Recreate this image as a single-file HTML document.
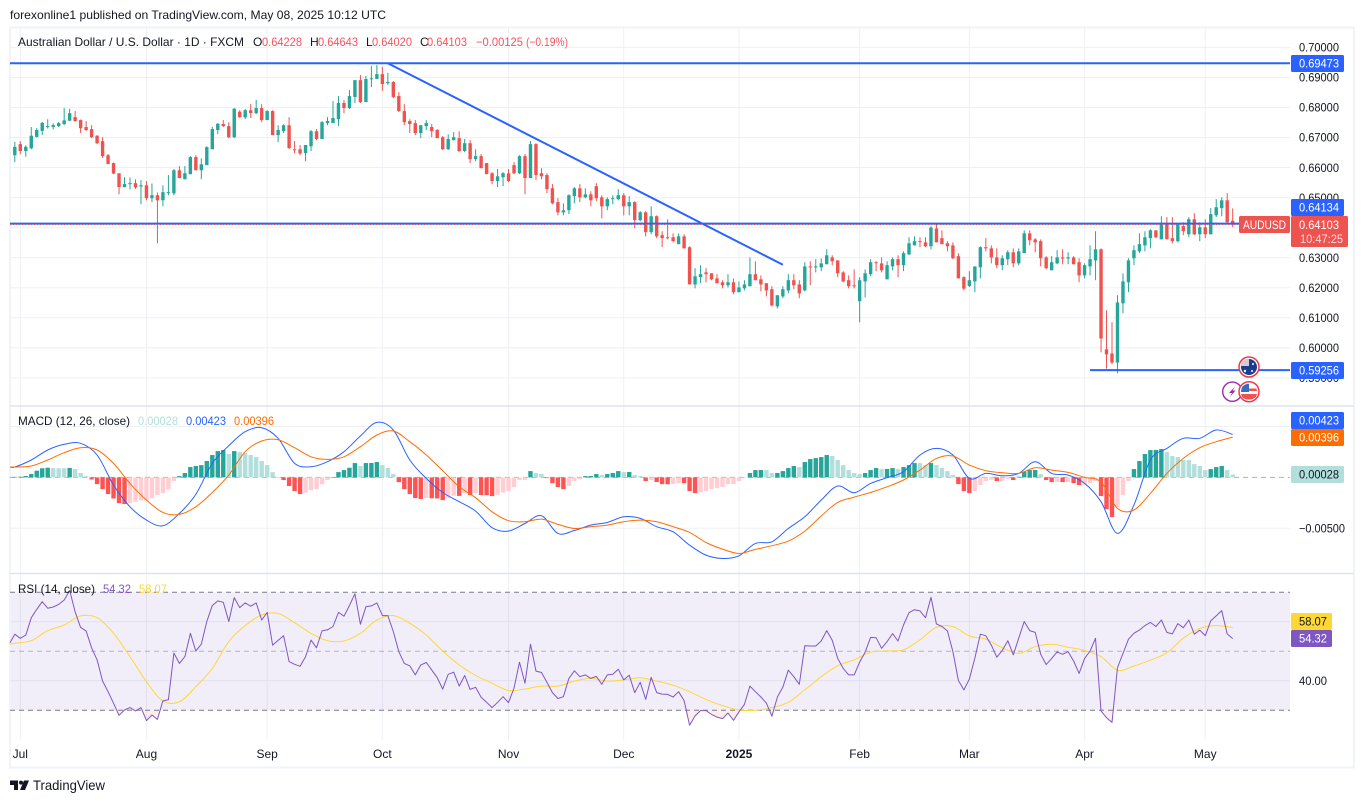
<!DOCTYPE html>
<html lang="en">
<head>
<meta charset="utf-8">
<title>AUD/USD daily chart</title>
<style>
html,body{margin:0;padding:0;background:#fff;width:1364px;height:803px;overflow:hidden}
svg{display:block}
text{font-family:"Liberation Sans",sans-serif;font-size:12px;fill:#131722}
.ax{font-size:12px;text-anchor:start}
.tm{font-size:12px;text-anchor:middle}
.red{fill:#f7525f}
</style>
</head>
<body>
<svg id="chart" xmlns="http://www.w3.org/2000/svg" width="1364" height="803" viewBox="0 0 1364 803">
  <rect width="1364" height="803" fill="#ffffff"/>
  <text x="10" y="19" textLength="376" lengthAdjust="spacingAndGlyphs">forexonline1 published on TradingView.com, May 08, 2025 10:12 UTC</text>
  <rect x="10" y="27.5" width="1344" height="740" fill="none" stroke="#f0f3fa" stroke-width="2"/>

  <g id="grid"></g>
  <rect x="11" y="592.3" width="1279" height="118" fill="#7e57c2" fill-opacity=".1"/>
  <g id="rsiLevels"></g>
  <line x1="10" x2="1354" y1="406" y2="406" stroke="#e0e3eb" stroke-width="1.4"/>
  <line x1="10" x2="1354" y1="573.5" y2="573.5" stroke="#e0e3eb" stroke-width="1.4"/>

  <g id="candles"></g>
  <g id="drawings"></g>
  <g id="hist"></g>
  <g id="macdLines"></g>
  <g id="rsiLines"></g>
  <g id="axes"></g>

  <g>
    <text x="18" y="46" textLength="226" lengthAdjust="spacingAndGlyphs">Australian Dollar / U.S. Dollar · 1D · FXCM</text>
    <text x="253" y="46">O</text>
    <text x="262" y="46" class="red" textLength="40" lengthAdjust="spacingAndGlyphs">0.64228</text>
    <text x="310" y="46">H</text>
    <text x="318" y="46" class="red" textLength="40" lengthAdjust="spacingAndGlyphs">0.64643</text>
    <text x="366" y="46">L</text>
    <text x="372" y="46" class="red" textLength="40" lengthAdjust="spacingAndGlyphs">0.64020</text>
    <text x="420" y="46">C</text>
    <text x="427" y="46" class="red" textLength="40" lengthAdjust="spacingAndGlyphs">0.64103</text>
    <text x="476" y="46" class="red" textLength="47" lengthAdjust="spacingAndGlyphs">−0.00125</text>
    <text x="526" y="46" class="red" textLength="42" lengthAdjust="spacingAndGlyphs">(−0.19%)</text>
  </g>
  <g>
    <text x="18" y="425" textLength="112" lengthAdjust="spacingAndGlyphs">MACD (12, 26, close)</text>
    <text x="138" y="425" style="fill:#b2dfdb" textLength="40" lengthAdjust="spacingAndGlyphs">0.00028</text>
    <text x="186" y="425" style="fill:#2962ff" textLength="40" lengthAdjust="spacingAndGlyphs">0.00423</text>
    <text x="234" y="425" style="fill:#ff6d00" textLength="40" lengthAdjust="spacingAndGlyphs">0.00396</text>
  </g>
  <g>
    <text x="18" y="593" textLength="77" lengthAdjust="spacingAndGlyphs">RSI (14, close)</text>
    <text x="103" y="593" style="fill:#7e57c2" textLength="28" lengthAdjust="spacingAndGlyphs">54.32</text>
    <text x="139" y="593" style="fill:#fdd835" textLength="28" lengthAdjust="spacingAndGlyphs">58.07</text>
  </g>

  <g>
    <circle cx="1232.3" cy="391.7" r="9.6" fill="#fff" stroke="#9c27b0" stroke-width="1.4"/>
    <path d="M1235 386.5 L1229 393 L1232 393 L1229.8 397 L1235.5 390.5 L1232.6 390.5 Z" fill="#9c27b0"/>
  </g>
  <g>
    <circle cx="1249" cy="367" r="10" fill="#fff" stroke="#f23645" stroke-width="1.5"/>
    <circle cx="1249" cy="367" r="8" fill="#1c3d8f"/>
    <path d="M1242 361.5 Q1245 359 1249 359 V366 H1241 Q1241 363 1242 361.5 Z" fill="#d7c8d6"/>
    <circle cx="1253" cy="364" r="1" fill="#fff"/><circle cx="1252" cy="371" r="1" fill="#fff"/><circle cx="1245" cy="371" r="1.2" fill="#fff"/>
  </g>
  <g>
    <circle cx="1249" cy="391.7" r="10" fill="#fff" stroke="#f23645" stroke-width="1.5"/>
    <path d="M1249 388.5 H1256.5 L1257 391 H1249 Z M1241 394 H1257 L1256 397 Q1253 399.6 1249 399.6 Q1244.5 399.6 1242 397 Z" fill="#ef5350"/>
    <path d="M1242.5 386.5 Q1245 383.7 1249 383.7 V392 H1241 Q1241 389 1242.5 386.5 Z" fill="#2f6fc4"/>
  </g>

  <g>
    <path d="M10 780.5 H18 V790 H14 V785 H10 Z M24 780.5 H29 L25 790 H20 Z" fill="#131722"/>
    <circle cx="21" cy="782.6" r="2" fill="#131722"/>
    <text x="33" y="790" style="font-size:14px" textLength="72" lengthAdjust="spacingAndGlyphs">TradingView</text>
  </g>
</svg>

<script>
// OHLC quotes in pips (price x 10^4), one per daily bar
const opens = [
6641,6678,6655,6664,6702,6722,6735,6735,6738,6745,
6756,6768,6758,6735,6728,6706,6688,6641,6615,6581,
6535,6546,6548,6537,6541,6498,6508,6491,6515,6514,
6591,6561,6578,6635,6591,6608,6661,6725,6745,6738,
6701,6786,6767,6791,6781,6798,6758,6788,6708,6721,
6741,6661,6661,6648,6671,6721,6695,6748,6748,6761,
6815,6798,6835,6891,6818,6895,6895,6911,6881,6885,
6838,6788,6755,6748,6715,6738,6735,6725,6701,6661,
6691,6698,6655,6681,6628,6638,6615,6581,6555,6568,
6581,6608,6581,6638,6565,6678,6581,6575,6531,6485,
6451,6458,6505,6531,6501,6511,6538,6501,6471,6495,
6495,6508,6471,6485,6425,6451,6385,6438,6375,6368,
6368,6345,6371,6335,6211,6235,6251,6248,6231,6218,
6208,6218,6185,6198,6205,6245,6228,6215,6195,6138,
6171,6191,6225,6211,6191,6271,6269,6268,6278,6301,
6291,6251,6225,6208,6155,6221,6245,6285,6281,6228,
6271,6295,6275,6311,6341,6355,6351,6338,6397,6365,
6348,6341,6305,6235,6206,6221,6268,6335,6331,6301,
6275,6295,6318,6281,6315,6381,6361,6355,6301,6258,
6281,6301,6297,6301,6285,6241,6271,6291,6328,5995,
5981,5951,6148,6218,6298,6321,6341,6365,6391,6361,
6411,6365,6355,6405,6378,6428,6378,6401,6378,6441,
6465,6491,6423];
const highs = [
6686,6688,6674,6735,6732,6752,6761,6747,6752,6798,
6796,6788,6760,6755,6741,6708,6701,6645,6617,6581,
6568,6567,6561,6558,6555,6547,6517,6541,6575,6595,
6605,6605,6638,6641,6631,6671,6735,6748,6758,6751,
6798,6791,6795,6811,6825,6811,6791,6791,6741,6744,
6768,6688,6675,6675,6725,6728,6755,6768,6821,6838,
6825,6858,6891,6908,6905,6938,6941,6935,6915,6888,
6851,6811,6761,6758,6741,6758,6745,6728,6705,6711,
6718,6721,6695,6691,6661,6645,6615,6585,6595,6585,
6595,6618,6641,6645,6688,6681,6598,6581,6545,6498,
6481,6511,6535,6545,6531,6521,6548,6508,6501,6508,
6528,6515,6505,6488,6455,6455,6471,6441,6388,6428,
6381,6381,6378,6338,6265,6275,6265,6248,6245,6225,
6245,6231,6221,6225,6301,6288,6241,6215,6205,6175,
6205,6245,6245,6225,6285,6288,6295,6298,6328,6308,
6291,6255,6241,6261,6235,6261,6295,6288,6301,6288,
6301,6308,6321,6368,6371,6368,6368,6405,6411,6391,
6355,6351,6315,6238,6255,6271,6338,6365,6341,6331,
6308,6325,6331,6331,6391,6391,6365,6361,6305,6305,
6325,6328,6318,6305,6298,6281,6341,6388,6331,6125,
6085,6175,6248,6298,6341,6381,6388,6395,6391,6438,
6435,6435,6415,6418,6435,6448,6418,6428,6465,6495,
6501,6515,6464];
const lows = [
6618,6645,6636,6661,6700,6708,6730,6727,6735,6741,
6755,6752,6715,6721,6698,6678,6632,6611,6578,6511,
6534,6527,6529,6478,6491,6485,6348,6471,6508,6508,
6565,6561,6578,6591,6561,6608,6661,6711,6735,6698,
6698,6765,6761,6765,6778,6751,6758,6708,6685,6715,
6661,6648,6641,6621,6655,6691,6695,6741,6748,6738,
6781,6795,6815,6815,6818,6868,6895,6855,6875,6831,
6785,6741,6715,6708,6698,6725,6701,6698,6658,6658,
6691,6651,6651,6615,6621,6598,6578,6545,6535,6538,
6551,6578,6578,6511,6565,6558,6561,6515,6478,6441,
6441,6445,6481,6485,6498,6471,6488,6431,6458,6478,
6491,6441,6441,6398,6421,6371,6378,6365,6335,6361,
6351,6345,6331,6211,6198,6215,6218,6225,6215,6198,
6201,6178,6185,6191,6205,6225,6188,6171,6138,6131,
6165,6181,6195,6165,6188,6208,6251,6255,6278,6275,
6235,6218,6198,6198,6085,6168,6238,6255,6251,6228,
6258,6235,6255,6308,6341,6335,6335,6328,6351,6345,
6321,6295,6231,6191,6202,6185,6231,6321,6281,6265,
6258,6275,6268,6275,6315,6341,6318,6271,6261,6258,
6278,6278,6278,6278,6218,6231,6241,6225,5985,5931,
5945,5915,6115,6185,6275,6315,6321,6331,6365,6361,
6361,6348,6351,6375,6368,6375,6355,6365,6378,6435,
6438,6415,6402];
const closes = [
6669,6655,6669,6706,6725,6749,6738,6741,6748,6757,
6781,6755,6731,6725,6701,6681,6638,6612,6580,6535,
6545,6548,6534,6541,6498,6508,6491,6518,6518,6591,
6565,6581,6635,6591,6611,6668,6728,6746,6738,6701,
6796,6768,6791,6781,6798,6758,6788,6708,6725,6741,
6665,6658,6647,6675,6721,6695,6751,6755,6765,6815,
6798,6838,6891,6818,6895,6897,6911,6878,6885,6835,
6788,6751,6745,6715,6741,6748,6721,6698,6661,6695,
6701,6655,6681,6628,6638,6598,6578,6555,6571,6581,
6555,6581,6638,6565,6678,6575,6571,6528,6481,6451,
6458,6508,6531,6501,6511,6491,6498,6471,6495,6498,
6508,6471,6485,6425,6451,6385,6438,6371,6365,6365,
6355,6371,6331,6211,6238,6245,6245,6228,6215,6208,
6218,6185,6201,6211,6245,6225,6211,6191,6141,6175,
6195,6225,6208,6181,6271,6268,6271,6281,6308,6288,
6248,6221,6205,6205,6225,6248,6285,6283,6258,6275,
6295,6275,6315,6348,6355,6352,6338,6400,6351,6345,
6338,6298,6231,6197,6225,6271,6335,6331,6301,6275,
6298,6318,6281,6321,6381,6358,6351,6298,6265,6285,
6301,6297,6301,6278,6241,6275,6295,6328,6031,5978,
5951,6151,6221,6291,6325,6345,6368,6391,6368,6411,
6361,6355,6411,6388,6428,6378,6401,6378,6445,6468,
6491,6418,6410];

// MACD histogram, in units of 0.00001, one per bar
const macdHist = [
5,6,13,33,66,90,95,92,91,90,
93,82,43,13,-20,-66,-115,-164,-207,-253,
-262,-253,-240,-226,-225,-207,-174,-154,-118,-36,
13,43,102,112,121,161,220,259,269,230,
259,249,239,220,200,161,121,52,3,-26,
-85,-134,-164,-151,-125,-115,-66,-26,3,52,
72,95,141,112,141,142,151,121,92,33,
-46,-115,-164,-203,-213,-203,-205,-207,-223,-203,
-180,-182,-157,-174,-154,-174,-175,-184,-171,-148,
-134,-95,-26,-25,62,43,33,-7,-56,-95,
-115,-85,-36,-16,13,14,33,23,33,43,
62,52,53,23,13,-36,-26,-46,-66,-67,
-65,-56,-57,-134,-154,-148,-134,-115,-105,-95,
-66,-65,-36,-7,43,72,73,72,43,44,
62,92,112,102,151,180,190,200,220,210,
171,121,72,43,33,43,72,92,82,83,
92,82,102,121,141,140,121,141,121,92,
62,23,-66,-134,-154,-134,-75,-36,-23,-36,
-35,-16,-26,7,56,72,73,33,-26,-46,
-45,-46,-45,-56,-75,-74,-56,-36,-184,-312,
-390,-292,-174,-36,82,161,230,269,270,279,
249,210,200,171,170,131,112,72,82,102,
112,72,28];

// Smooth lines read once every SAMPLE_STEP bars
const SAMPLE_STEP = 3;
const macdLine = [
102,171,269,325,335,220,-75,-289,-420,-476,-354,-167,138,312,449,489,384,138,105,154,253,407,541,466,171,-10,-148,
-239,-331,-495,-528,-453,-377,-551,-522,-469,-443,-387,-403,-485,-535,-666,-764,-797,-771,-649,-633,-502,-387,-223,-85,-151,-59,-3,
56,220,285,220,-10,39,16,39,154,39,23,-59,-239,-551,-272,171,285,384,384,466,423];
const signalLine = [
102,112,171,243,292,269,138,-59,-223,-344,-364,-289,-148,23,253,358,371,292,203,177,203,302,417,456,351,220,66,
-92,-200,-338,-426,-436,-410,-462,-502,-485,-469,-436,-420,-436,-485,-541,-640,-705,-748,-708,-672,-626,-528,-380,-246,-194,-148,-92,
-26,72,187,210,121,66,46,39,95,72,49,0,-46,-305,-321,-157,39,187,292,351,396];

// RSI, one per bar; the lead-in values sit at the left edge of the pane
const rsiLeadIn = 52.9;
const rsiMaLeadIn = 52.4;
const rsiValues = [
55.8,54.4,55.5,61.4,64.2,66.8,64.6,65,65.9,67.4,
70.6,63.4,58.1,56.9,51.2,47.1,39.9,36.3,32.4,28.3,
30.1,30.9,29.8,30.9,26.5,28.4,26.9,33.2,33.6,49.4,
45.9,48.2,56.1,50.1,52.4,60.1,65.5,67.1,66.6,60.1,
68.2,64.8,66.4,65.3,66.4,60.6,63.2,52.1,53.7,55.3,
46.5,45.6,44.9,48.2,53.8,51.2,56.9,57.3,58.4,63.2,
61.9,65.5,69.5,59.2,65.1,65.4,66.4,62.1,62.1,56.7,
49.9,45.9,45.1,42,45.4,46.2,43.7,41.1,37.2,42.2,
42.9,38.2,41.8,37.1,37.8,34.4,32.7,30.9,32.7,34.6,
32.6,37.5,46.3,39.2,52.4,43.3,42.8,39.5,36,34,
34.6,40.8,43.4,41.4,42,40.8,41.5,38.8,42,42.2,
43.9,40.3,41.9,36,39.5,33.7,41.2,36,35.5,35.4,
34.5,36.3,33.3,24.9,28.1,29.9,29.9,28.6,27.7,27.2,
29.1,26.6,29.5,32,38.2,36.3,34.5,32.4,28,34.5,
37.8,43.6,41.4,38.8,51.9,51.8,51.8,53.5,57,53.8,
47.6,44.2,42,42,46.3,49.7,54.7,54.6,51,53.3,
56,53.5,58.9,63.1,64.1,63.7,61.4,68.3,59.3,58.4,
56.9,49.9,40.1,36.9,40.6,47.6,55.8,55.3,52.1,48,
50.3,53.6,48.8,54.4,60.1,57,56.4,49,45.5,47.6,
49.8,49,49.9,46.7,42.5,47.6,50.1,54.4,29.8,27.5,
25.9,44.5,49.3,54.1,56.1,57.2,58.7,59.8,58.4,60.6,
56.4,55.9,59.4,58,60.6,55.8,57.2,55.3,60.3,62,
63.8,55.9,54.32];
const rsiMa = [
52.7,53.6,57,58.9,62,61.4,56.1,48.2,39.7,33.2,32.9,38,44.2,53.3,58.7,62.3,62.8,59.7,56.1,53.6,53.5,56.1,60.6,62.1,59.5,55.5,50.1,
45.4,41.8,39.2,36.7,37.2,38.2,38.2,39.9,40.8,39.9,40.3,41,39.9,38.5,36.3,33.7,31.6,30.1,30,30.9,32.7,36.9,41.4,45.1,47.1,49.7,50.1,
50.5,53.9,58.1,58.4,55.2,54.1,51.2,49.3,51.6,52.4,51.4,50.3,48.2,43.6,45,47,49.5,54.4,57.8,58.7,58.07];

// Axis ticks
const priceTicks = [0.70,0.69,0.68,0.67,0.66,0.65,0.64,0.63,0.62,0.61,0.60,0.59];
const macdTicks = [500,-500];
const rsiTicks = [60,40];
const rsiDashedLevels = [70,50,30];
const timeLabels = ['Jul','Aug','Sep','Oct','Nov','Dec','2025','Feb','Mar','Apr','May'];
const timeBars = [1,24,46,67,90,111,132,154,174,195,217];

// Drawn price levels and trend line (bar index, price)
const levelHigh = 0.69473;
const levelMid = 0.64134;
const levelLow = 0.59256;
const lastClose = 0.64103;
const lowLevelStartBar = 196;
const trendBars = [68,140];
const trendPrices = [0.69473,0.62766];

// Axis functions
const PANE_LEFT = 10, PANE_RIGHT = 1290;
function xBar(i){ return 14.8 + 5.486*i; }
function yPrice(p){ return 47.4 + (0.7-p)*3004; }
function yPip(p){ return yPrice(p/10000); }
function yMacd(u){ return 477.4 - u*0.1017; }
function yRsi(v){ return 651.3 - (v-50)*2.95; }

const NS = 'http://www.w3.org/2000/svg';
function make(parent, tag, attrs, text){
  const el = document.createElementNS(NS, tag);
  for (const k in attrs) el.setAttribute(k, attrs[k]);
  if (text !== undefined) el.textContent = text;
  document.getElementById(parent).appendChild(el);
  return el;
}
function pathOf(pts){ return pts.map((p,i)=>(i?'L':'M')+p[0].toFixed(1)+' '+p[1].toFixed(1)).join(' '); }
function smoothPathOf(pts){
  let d = 'M'+pts[0][0].toFixed(1)+' '+pts[0][1].toFixed(1);
  for (let i=0;i<pts.length-1;i++){
    const p0 = pts[Math.max(0,i-1)], p1 = pts[i], p2 = pts[i+1], p3 = pts[Math.min(pts.length-1,i+2)];
    const c1x = p1[0]+(p2[0]-p0[0])/6, c1y = p1[1]+(p2[1]-p0[1])/6;
    const c2x = p2[0]-(p3[0]-p1[0])/6, c2y = p2[1]-(p3[1]-p1[1])/6;
    d += ' C'+c1x.toFixed(1)+' '+c1y.toFixed(1)+' '+c2x.toFixed(1)+' '+c2y.toFixed(1)+' '+p2[0].toFixed(1)+' '+p2[1].toFixed(1);
  }
  return d;
}

// Grid
const GRID = '#eef0f4';
timeBars.forEach(b=>{
  const el = make('grid','line',{x1:xBar(b),x2:xBar(b),y1:28,y2:740,stroke:GRID,'stroke-width':1});
  
  
});
priceTicks.forEach(p=>{
  const el = make('grid','line',{x1:PANE_LEFT,x2:PANE_RIGHT,y1:yPrice(p),y2:yPrice(p),stroke:GRID,'stroke-width':1});
  
  
});
macdTicks.forEach(u=>{
  const el = make('grid','line',{x1:PANE_LEFT,x2:PANE_RIGHT,y1:yMacd(u),y2:yMacd(u),stroke:GRID,'stroke-width':1});
  
  
});
rsiTicks.forEach(v=>{
  const el = make('grid','line',{x1:PANE_LEFT,x2:PANE_RIGHT,y1:yRsi(v),y2:yRsi(v),stroke:GRID,'stroke-width':1});
  
  
});
rsiDashedLevels.forEach(v=>{
  const el = make('rsiLevels','line',{x1:PANE_LEFT,x2:PANE_RIGHT,y1:yRsi(v),y2:yRsi(v),stroke:'#787b86','stroke-opacity':v===50?.5:1,'stroke-width':1,'stroke-dasharray':'5 4'});
  
  
});

// Candles
opens.forEach((o,i)=>{
  const c = closes[i], col = c>=o ? '#26a69a' : '#ef5350';
  const x = xBar(i);
  const wick = make('candles','rect',{x:(x-.5).toFixed(2),y:yPip(highs[i]).toFixed(2),width:1,height:(yPip(lows[i])-yPip(highs[i])).toFixed(2),fill:col});
  
  
  const top = yPip(Math.max(o,c)), bot = yPip(Math.min(o,c));
  const body = make('candles','rect',{x:(x-1.7).toFixed(2),y:top.toFixed(2),width:3.4,height:Math.max(1,bot-top).toFixed(2),fill:col});
  
  
});

// Price drawings
const hi = make('drawings','line',{x1:PANE_LEFT,x2:PANE_RIGHT,y1:yPrice(levelHigh),y2:yPrice(levelHigh),stroke:'#2962ff','stroke-width':2});


const mid = make('drawings','line',{x1:PANE_LEFT,x2:PANE_RIGHT,y1:yPrice(levelMid),y2:yPrice(levelMid),stroke:'#2962ff','stroke-width':2});


const closeLine = make('drawings','line',{x1:PANE_LEFT,x2:PANE_RIGHT,y1:yPrice(lastClose),y2:yPrice(lastClose),stroke:'#ef5350','stroke-width':1,'stroke-dasharray':'1 2'});


const lo = make('drawings','line',{x1:xBar(lowLevelStartBar),x2:PANE_RIGHT,y1:yPrice(levelLow),y2:yPrice(levelLow),stroke:'#2962ff','stroke-width':2});


const trend = make('drawings','line',{x1:xBar(trendBars[0]),y1:yPrice(trendPrices[0]),x2:xBar(trendBars[1]),y2:yPrice(trendPrices[1]),stroke:'#2962ff','stroke-width':2});



// MACD histogram
const zeroLine = make('hist','line',{x1:PANE_LEFT,x2:PANE_RIGHT,y1:yMacd(0),y2:yMacd(0),stroke:'#787b86','stroke-width':1,'stroke-dasharray':'5 4','stroke-opacity':.6});


macdHist.forEach((u,i)=>{
  const prev = i ? macdHist[i-1] : u;
  const col = u>=0 ? (u>=prev ? '#26a69a' : '#b2dfdb') : (u<prev ? '#ff5252' : '#ffcdd2');
  const y0 = yMacd(0), y1 = yMacd(u);
  const bar = make('hist','rect',{x:(xBar(i)-2.2).toFixed(2),y:Math.min(y0,y1).toFixed(2),width:4.4,height:Math.max(.6,Math.abs(y1-y0)).toFixed(2),fill:col});
  
  
});

// MACD + signal lines
const macdPts = [[PANE_LEFT,yMacd(macdLine[0])]].concat(macdLine.map((u,k)=>[xBar(k*SAMPLE_STEP),yMacd(u)]));
const macdPath = make('macdLines','path',{d:smoothPathOf(macdPts),fill:'none',stroke:'#2962ff','stroke-width':1,'stroke-linejoin':'round'});


const signalPts = [[PANE_LEFT,yMacd(signalLine[0])]].concat(signalLine.map((u,k)=>[xBar(k*SAMPLE_STEP),yMacd(u)]));
const signalPath = make('macdLines','path',{d:smoothPathOf(signalPts),fill:'none',stroke:'#ff6d00','stroke-width':1,'stroke-linejoin':'round'});



// RSI + MA lines
const rsiPts = [[PANE_LEFT,yRsi(rsiLeadIn)]].concat(rsiValues.map((v,i)=>[xBar(i),yRsi(v)]));
const clip = make('rsiLines','clipPath',{id:'belowBand'});
clip.appendChild(document.createElementNS(NS,'rect'));
clip.firstChild.setAttribute('x',PANE_LEFT);
clip.firstChild.setAttribute('y',yRsi(30));
clip.firstChild.setAttribute('width',PANE_RIGHT-PANE_LEFT);
clip.firstChild.setAttribute('height',40);
const oversold = make('rsiLines','path',{d:pathOf(rsiPts)+' L'+xBar(rsiValues.length-1)+' '+yRsi(30)+' L'+PANE_LEFT+' '+yRsi(30)+' Z',fill:'#ef5350','fill-opacity':.1,'clip-path':'url(#belowBand)'});


const maPts = [[PANE_LEFT,yRsi(rsiMaLeadIn)]].concat(rsiMa.map((v,k)=>[xBar(k*SAMPLE_STEP),yRsi(v)]));
const maPath = make('rsiLines','path',{d:smoothPathOf(maPts),fill:'none',stroke:'#fdd835','stroke-width':1,'stroke-linejoin':'round'});


const rsiPath = make('rsiLines','path',{d:pathOf(rsiPts),fill:'none',stroke:'#7e57c2','stroke-width':1,'stroke-linejoin':'round'});



// Axis labels
const AX_X = 1299;
const FIT = 'spacingAndGlyphs';
priceTicks.forEach(p=>{
  const t = make('axes','text',{x:AX_X,y:yPrice(p)+4.2,class:'ax',textLength:40,lengthAdjust:FIT},p.toFixed(5));
  
  
});
macdTicks.forEach(u=>{
  const t = make('axes','text',{x:AX_X,y:yMacd(u)+4.2,class:'ax',textLength:u<0?46:40,lengthAdjust:FIT},(u<0?'\u2212':'')+(Math.abs(u)/1e5).toFixed(5));
  
  
});
rsiTicks.forEach(v=>{
  const t = make('axes','text',{x:AX_X,y:yRsi(v)+4.2,class:'ax',textLength:28,lengthAdjust:FIT},v.toFixed(2));
  
  
});
timeLabels.forEach((s,i)=>{
  const t = make('axes','text',{x:xBar(timeBars[i]),y:758,class:'tm',style:s==='2025'?'font-weight:bold':''},s);
  
  
});

// Axis value tags: tag text, centre y, box width, background, text colour
const tagText = ['0.69473','0.64134','0.59256','0.00423','0.00396','0.00028','58.07','54.32'];
const tagY = [63.5,207.5,370.5,420.5,437.5,474.5,621.5,638.5];
const tagW = [53,53,53,53,53,53,41,41];
const tagBg = ['#2962ff','#2962ff','#2962ff','#2962ff','#ff6d00','#b2dfdb','#fdd835','#7e57c2'];
const tagFg = ['#fff','#fff','#fff','#fff','#fff','#131722','#131722','#fff'];
tagText.forEach((s,i)=>{
  const box = make('axes','rect',{x:1291,y:tagY[i]-8.5,width:tagW[i],height:17,rx:1.5,fill:tagBg[i]});
  
  
  const t = make('axes','text',{x:AX_X,y:tagY[i]+4.2,class:'ax',style:'fill:'+tagFg[i],textLength:tagW[i]<50?28:40,lengthAdjust:FIT},s);
  
  
});
const priceBox = make('axes','rect',{x:1291,y:216,width:57,height:31,rx:1.5,fill:'#ef5350'});


const priceTxt = make('axes','text',{x:AX_X,y:229.2,class:'ax',style:'fill:#fff',textLength:40,lengthAdjust:FIT},lastClose.toFixed(5));


const countdown = make('axes','text',{x:1300,y:243.2,class:'ax',style:'fill:#fff;fill-opacity:.8',textLength:43,lengthAdjust:FIT},'10:47:25');


const symBox = make('axes','rect',{x:1239,y:216,width:51,height:17,rx:1.5,fill:'#ef5350'});


const symTxt = make('axes','text',{x:1243,y:229.2,class:'ax',style:'fill:#fff',textLength:43,lengthAdjust:FIT},'AUDUSD');


</script>
</body>
</html>
